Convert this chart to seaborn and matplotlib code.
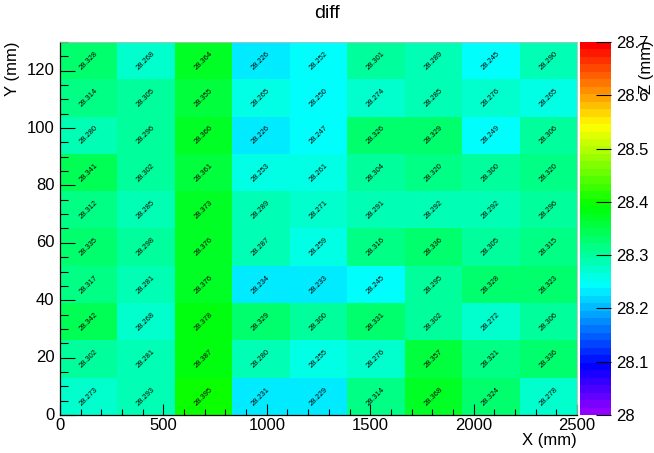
import colorsys
import numpy as np
import pandas as pd
import matplotlib
matplotlib.use("Agg")
import matplotlib.pyplot as plt
from matplotlib.colors import ListedColormap
from matplotlib.ticker import FixedLocator
import seaborn as sns

# values, rows listed from top (y=117-130) to bottom (y=0-13)
values = [
    [28.328, 28.268, 28.364, 28.226, 28.252, 28.301, 28.289, 28.245, 28.290],
    [28.314, 28.305, 28.355, 28.265, 28.250, 28.274, 28.285, 28.276, 28.265],
    [28.280, 28.296, 28.366, 28.226, 28.247, 28.326, 28.329, 28.249, 28.306],
    [28.341, 28.302, 28.361, 28.253, 28.261, 28.304, 28.320, 28.300, 28.320],
    [28.312, 28.285, 28.373, 28.289, 28.271, 28.291, 28.292, 28.292, 28.296],
    [28.335, 28.298, 28.376, 28.287, 28.259, 28.316, 28.336, 28.305, 28.315],
    [28.317, 28.281, 28.376, 28.234, 28.233, 28.245, 28.295, 28.328, 28.323],
    [28.342, 28.268, 28.378, 28.329, 28.300, 28.331, 28.302, 28.272, 28.306],
    [28.302, 28.281, 28.387, 28.280, 28.255, 28.276, 28.357, 28.321, 28.336],
    [28.273, 28.293, 28.395, 28.231, 28.229, 28.314, 28.368, 28.324, 28.278],
]
x_max = 2500.0
y_max = 130.0
x_ticks = [0, 500, 1000, 1500, 2000, 2500]
y_ticks = [0, 20, 40, 60, 80, 100, 120]
z_ticks = [28.0, 28.1, 28.2, 28.3, 28.4, 28.5, 28.6, 28.7]
z_labels = ["28", "28.1", "28.2", "28.3", "28.4", "28.5", "28.6", "28.7"]

ncol = len(values[0])
nrow = len(values)
cw = x_max / ncol
ch = y_max / nrow

# ROOT "pretty palette" violet -> red, 50 colours
cols = []
for i in range(49):
    hue = 280.0 - (i + 1) * (280.0 / 50.0)
    cols.append(colorsys.hls_to_rgb(hue / 360.0, 0.5, 1.0))
cols.append((1.0, 0.0, 0.0))
cmap = ListedColormap(cols)

plt.rcParams['font.family'] = ['Liberation Sans', 'DejaVu Sans']

fig = plt.figure(figsize=(6.54, 4.53), dpi=100)
W, H = 654, 453
ax = fig.add_axes([60 / W, 1 - 415 / H, 517 / W, 373 / H])
cax = fig.add_axes([580 / W, 1 - 415 / H, 31 / W, 373 / H])

df = pd.DataFrame(np.flipud(np.array(values)))
sns.heatmap(df, ax=ax, cbar_ax=cax, cmap=cmap, vmin=28.0, vmax=28.7,
            annot=True, fmt=".3f",
            annot_kws=dict(rotation=45, fontsize=5.4, color="black"))
ax.set_xlim(0, ncol)
ax.set_ylim(0, nrow)

ax.xaxis.set_major_locator(FixedLocator([v / cw for v in x_ticks]))
ax.xaxis.set_minor_locator(FixedLocator([v / cw for v in np.arange(0, 2501, 100)]))
ax.set_xticklabels([str(v) for v in x_ticks])
ax.yaxis.set_major_locator(FixedLocator([v / ch for v in y_ticks]))
ax.yaxis.set_minor_locator(FixedLocator([v / ch for v in np.arange(0, 131, 5)]))
ax.set_yticklabels([str(v) for v in y_ticks], rotation=0)

ax.tick_params(axis='x', which='major', direction='in', length=8, width=0.8,
               labelsize=12, pad=2, bottom=True, top=False)
ax.tick_params(axis='x', which='minor', direction='in', length=4, width=0.8,
               bottom=True, top=False)
ax.tick_params(axis='y', which='major', direction='in', length=11, width=0.8,
               labelsize=12, pad=4, left=True, right=False)
ax.tick_params(axis='y', which='minor', direction='in', length=5.5, width=0.8,
               left=True, right=False)
for s in ['left', 'bottom']:
    ax.spines[s].set_visible(True)
    ax.spines[s].set_color('black')
    ax.spines[s].set_linewidth(0.9)
for s in ['top', 'right']:
    ax.spines[s].set_visible(True)
    ax.spines[s].set_color('#bbbbbb')
    ax.spines[s].set_linewidth(0.6)
ax.set_xlabel("")
ax.set_ylabel("")

fig.text(577 / W, 1 - 441 / H, "X (mm)", ha='right', va='center', fontsize=12)
fig.text(12 / W, 1 - 42 / H, "Y (mm)", ha='center', va='top', rotation=90, fontsize=12)
fig.text(327 / W, 1 - 13 / H, "diff", ha='center', va='center', fontsize=14)

cax.yaxis.set_major_locator(FixedLocator(z_ticks))
cax.set_yticklabels(z_labels)
cax.tick_params(axis='y', which='both', direction='in', length=11, width=0.8,
                labelsize=12, pad=4, right=True, left=False)
for s in cax.spines.values():
    s.set_visible(False)
fig.text(647 / W, 1 - 40 / H, "Z (mm)", ha='center', va='top', rotation=90, fontsize=12)

fig.savefig("out.png", dpi=100)
